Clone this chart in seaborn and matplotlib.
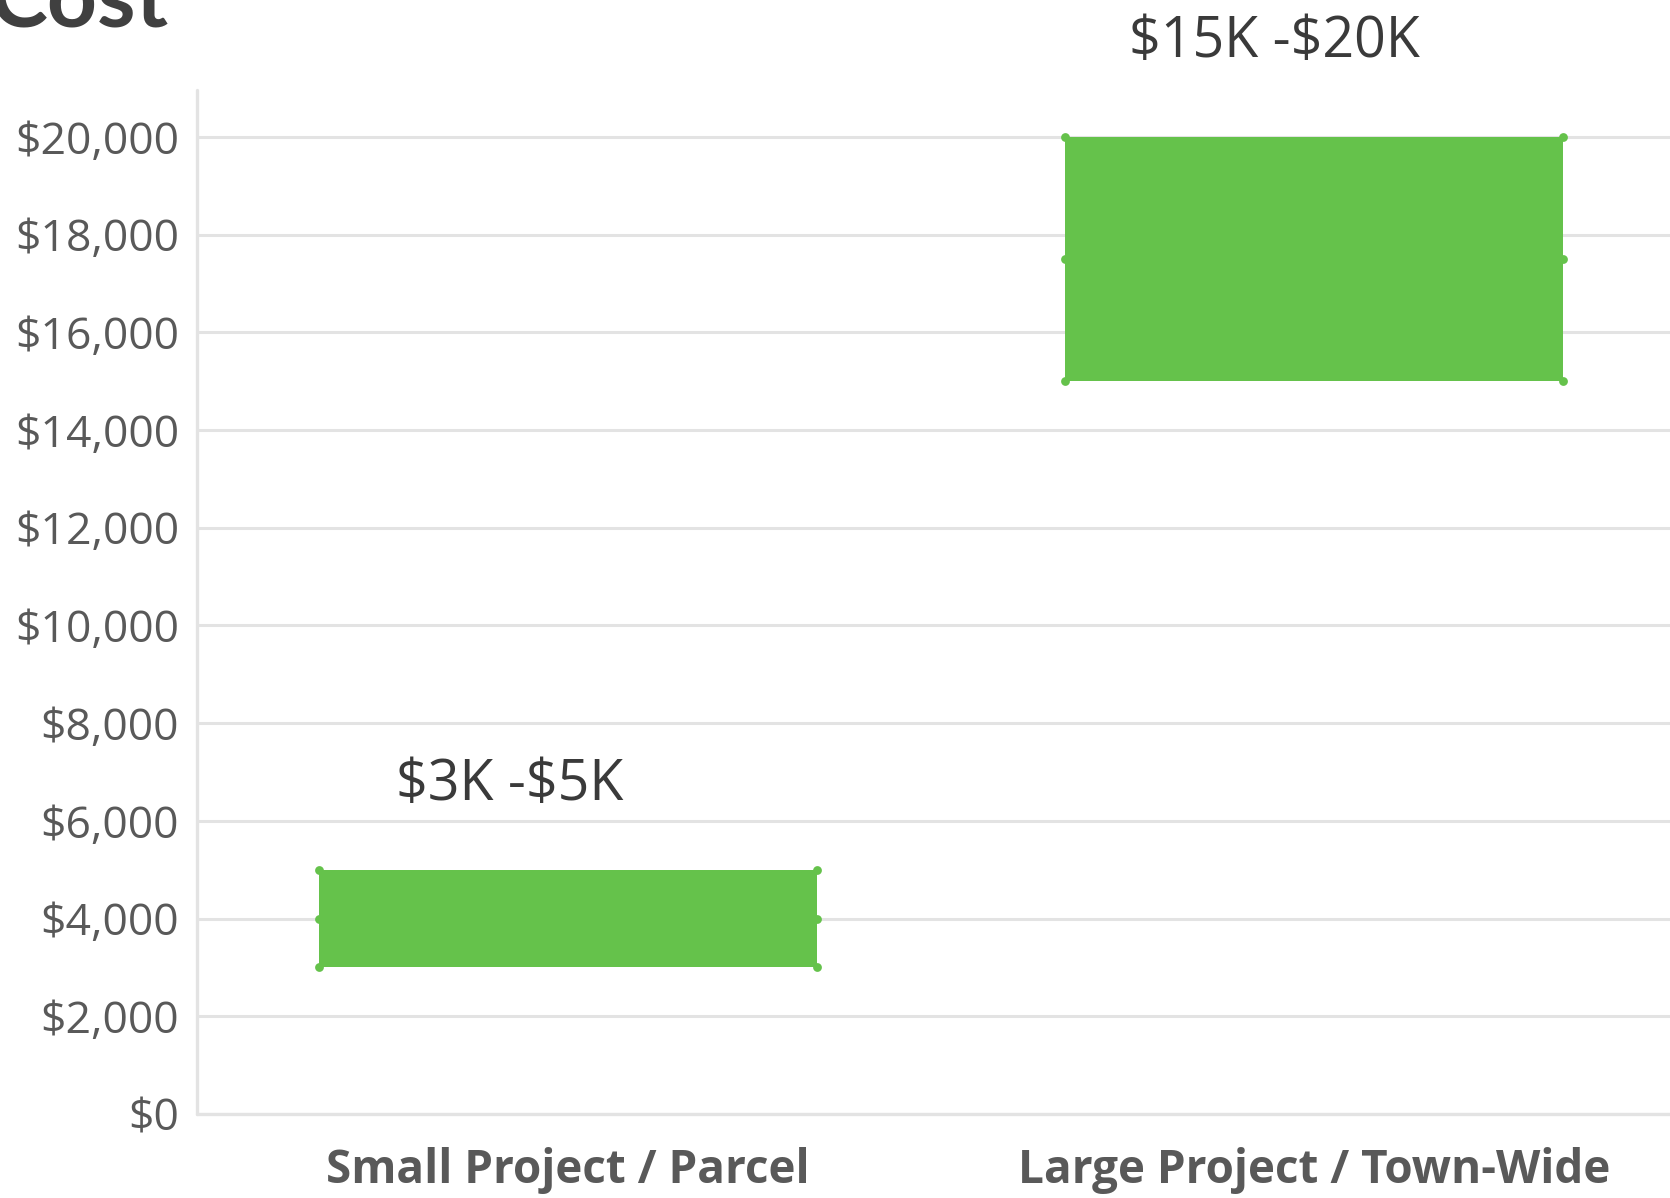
import matplotlib
matplotlib.use("Agg")
import matplotlib.pyplot as plt
import seaborn as sns
import pandas as pd

# Cost ranges per project size
categories = ["Small Project / Parcel", "Large Project / Town-Wide"]
cost_low = [3000, 15000]
cost_high = [5000, 20000]
range_labels = ["$3K -$5K", "$15K -$20K"]
y_ticks = [0, 2000, 4000, 6000, 8000, 10000, 12000, 14000, 16000, 18000, 20000]

GREEN = "#65C24B"
GRID = "#E3E3E3"
TEXT = "#595959"

sns.set_theme(style="white")
plt.rcParams["font.family"] = ["Open Sans", "DejaVu Sans"]

df = pd.DataFrame({
    "category": categories,
    "span": [h - l for l, h in zip(cost_low, cost_high)],
})

fig = plt.figure(figsize=(16.70, 11.98), dpi=100)
ax = fig.add_axes([0.118, 0.0701, 0.882, 0.8548])

sns.barplot(data=df, x="category", y="span", color=GREEN, width=0.667,
            saturation=1, ax=ax, zorder=3, linewidth=0)

# float each bar to start at its lower bound, with small dots on the edges
for patch, low, high in zip(ax.patches, cost_low, cost_high):
    patch.set_y(low)
    patch.set_height(high - low)
    x0 = patch.get_x()
    x1 = x0 + patch.get_width()
    mid = (low + high) / 2
    xs = [x0, x0, x0, x1, x1, x1]
    ys = [low, mid, high, low, mid, high]
    ax.scatter(xs, ys, s=40, color=GREEN, zorder=4, linewidths=0)

# range annotations above each bar
label_offsets = [1720, 1940]
label_shift = [-0.079, -0.053]
for i, (txt, high) in enumerate(zip(range_labels, cost_high)):
    ax.text(i + label_shift[i], high + label_offsets[i], txt, ha="center",
            va="center", fontsize=40, color="#3A3A3A", clip_on=False,
            parse_math=False)

ax.set_ylim(0, 20960)
ax.set_xlim(-0.4975, 1.477)
ax.set_yticks(y_ticks)
ax.set_yticklabels([f"${v:,.0f}" for v in y_ticks])
ax.yaxis.grid(True, color=GRID, linewidth=2.2, zorder=0)
ax.set_axisbelow(True)

ax.tick_params(axis="y", labelsize=32, labelcolor=TEXT, length=0, pad=13)
ax.tick_params(axis="x", labelsize=33, labelcolor=TEXT, length=0, pad=24)
for lbl in ax.get_xticklabels():
    lbl.set_fontweight("bold")
ax.set_xlabel("")
ax.set_ylabel("")

for side in ["top", "right"]:
    ax.spines[side].set_visible(False)
for side in ["left", "bottom"]:
    ax.spines[side].set_color(GRID)
    ax.spines[side].set_linewidth(2.4)
    ax.spines[side].set_capstyle("round")

fig.text(-0.006, 0.998, "Cost", fontsize=63, fontweight="bold", color="#404040",
         ha="left", va="center", family=["Lato", "DejaVu Sans"])

fig.savefig("out.png", dpi=100, facecolor="white")
